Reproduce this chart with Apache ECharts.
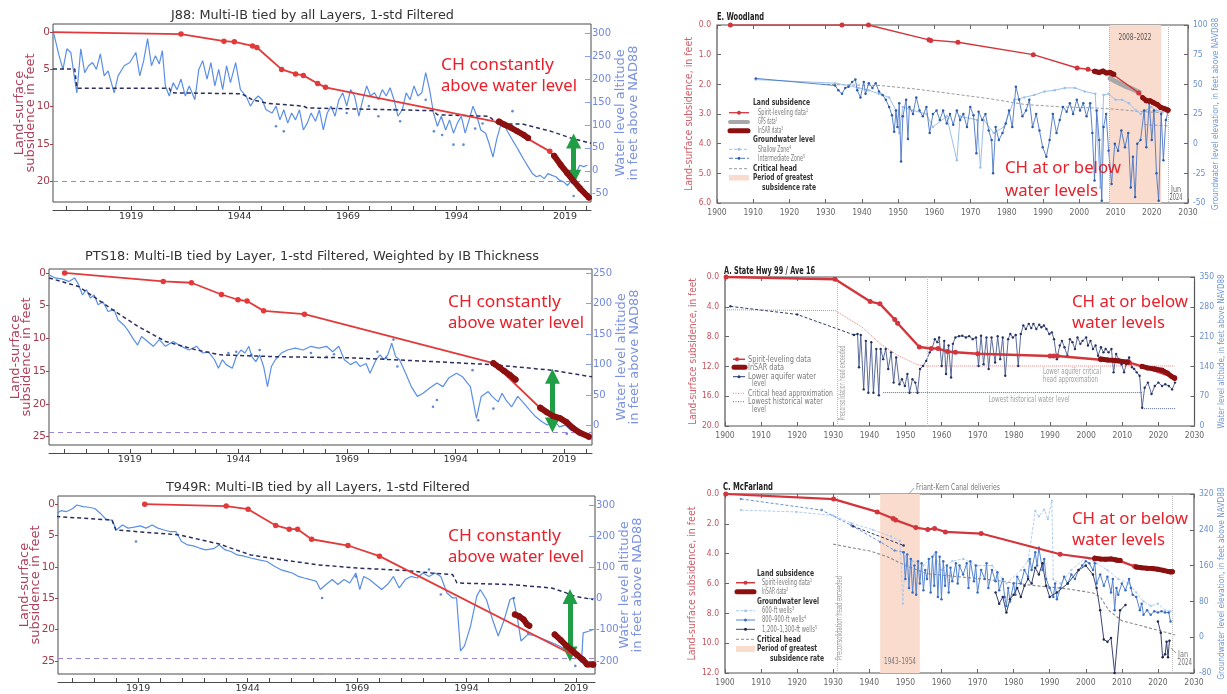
<!DOCTYPE html>
<html>
<head>
<meta charset="utf-8">
<script src="https://cdn.jsdelivr.net/npm/echarts@6.0.0/dist/echarts.min.js"></script>
<style>
html,body{margin:0;padding:0;background:#ffffff;}
#chart{width:1227px;height:694px;}
</style>
</head>
<body>
<div id="chart"></div>
<script>
// ================= TICK LABELS =================
const MPL_X_LABELS = [1919, 1944, 1969, 1994, 2019];
const MPL_X_TICKS = [1904,1909,1914,1919,1924,1929,1934,1939,1944,1949,1954,1959,1964,1969,1974,1979,1984,1989,1994,1999,2004,2009,2014,2019,2024];
const J88_LEFT_TICKS = [0,5,10,15,20];
const J88_RIGHT_TICKS = [-50,0,50,100,150,200,250,300];
const PTS_LEFT_TICKS = [0,5,10,15,20,25];
const PTS_RIGHT_TICKS = [0,50,100,150,200,250];
const T949_LEFT_TICKS = [0,5,10,15,20,25];
const T949_RIGHT_TICKS = [-200,-100,0,100,200,300];

// ================= J88 =================
const J88_SPIRIT = [[1901,0],[1930.5,0.25],[1940.4,1.2],[1942.8,1.3],[1947.0,1.85],[1948.0,2.05],[1953.7,5.0],[1956.9,5.6],[1958.7,5.8],[1962.0,6.9],[1963.8,7.4],[2003.8,12.1],[2015.5,16.0],[2024.5,22.2]];
const J88_INSAR_A = [[2003.8,12.0],[2005,12.4],[2006.5,12.8],[2008,13.3],[2009.5,13.8],[2010.5,14.2]];
const J88_INSAR_B = [[2016.5,16.6],[2018,17.8],[2019.5,18.9],[2021,20.0],[2022.5,21.0],[2024.5,22.2]];
const J88_WATER = [[1901,306],[1902.4,251],[1903.3,221],[1904.2,266],[1905.1,258],[1906,200],[1906.5,170],[1907.4,266],[1908.3,214],[1909.2,229],[1910.1,236],[1911,221],[1911.9,255],[1912.8,207],[1913.7,218],[1915.1,170],[1916,207],[1917.4,229],[1918.7,236],[1920.1,258],[1921,207],[1921.9,240],[1922.8,288],[1923.7,229],[1924.6,251],[1925.5,233],[1926.2,262],[1926.9,185],[1927.8,163],[1928.7,192],[1929.6,177],[1930.5,200],[1931.5,163],[1932.4,185],[1933.7,155],[1934.6,221],[1935.5,240],[1936.5,200],[1937.4,236],[1938.3,185],[1939.2,221],[1940.1,177],[1941,229],[1941.9,192],[1943.1,236],[1944.2,177],[1945.5,163],[1946.5,141],[1947.4,155],[1948.3,163],[1949.2,155],[1950.1,133],[1951.5,126],[1952.4,141],[1953.3,111],[1954.2,133],[1955.1,104],[1956,126],[1956.9,111],[1957.8,133],[1958.7,89],[1959.6,104],[1960.5,126],[1961.5,108],[1962.4,133],[1963.3,89],[1964.2,126],[1965.1,141],[1966,119],[1966.9,155],[1967.8,170],[1968.7,141],[1969.6,177],[1970.5,163],[1971.5,119],[1972.4,155],[1973.3,185],[1974.2,163],[1975.1,170],[1976,155],[1976.9,177],[1977.8,163],[1978.7,181],[1979.6,155],[1980.5,119],[1981.5,133],[1982.4,170],[1983.3,155],[1984.2,185],[1985.1,163],[1986,170],[1986.9,214],[1987.8,177],[1988.7,126],[1989.6,97],[1990.5,119],[1991.5,89],[1992.4,111],[1993.3,82],[1994.2,104],[1995.1,119],[1996,82],[1996.9,111],[1997.8,141],[1998.7,119],[1999.6,89],[2000.7,82],[2001.5,60],[2002.4,30],[2003.3,70],[2004.2,100],[2005.1,97],[2006,82],[2006.9,67],[2007.8,53],[2008.7,38],[2009.6,23],[2010.5,9],[2011.5,-6],[2012.4,-13],[2013.3,-10],[2014.2,-17],[2015.1,-6],[2016,-10],[2016.9,-13],[2017.8,-21],[2018.7,-24],[2019.6,-32],[2020.5,-21],[2021.5,-6],[2022.4,12],[2023.3,9],[2024.2,12]];
const J88_DOTS = [[1952.4,97],[1954.2,86],[1968.7,126],[1973.8,141],[1976,119],[1979.6,133],[1981,108],[1986.9,155],[1988.8,86],[1990.7,78],[1993.3,57],[1995.6,57],[1998.3,92],[2000,103],[2006.9,130],[2021,-55]];
const J88_CRIT = [[1901,222],[1906,222],[1906.5,180],[1927.8,180],[1928.3,170],[1944.5,168],[1946.9,155],[1950.5,147],[1958.7,141],[1959.6,137],[1979.6,133],[1988.7,131],[1989.6,122],[2001.5,119],[2003.5,102],[2009.2,102],[2015.8,86],[2020.5,71],[2025,60]];

// ================= PTS18 =================
const PTS_SPIRIT = [[1904,0],[1926.7,1.3],[1933.2,1.5],[1940.1,3.3],[1943.9,4.1],[1946,4.3],[1949.8,5.8],[1959.2,6.3],[2002.7,13.8],[2013.7,20.8],[2024.8,25.1]];
const PTS_INSAR_A = [[2002.7,13.8],[2004,14.4],[2005.2,15.0],[2006.5,15.6],[2007.8,16.3]];
const PTS_INSAR_B = [[2013.5,20.6],[2015,21.3],[2016.5,21.9],[2018,22.2],[2019.5,22.8],[2021,23.7],[2022.5,24.4],[2024.6,25.0]];
const PTS_WATER = [[1900.4,247],[1901.8,242],[1903.6,240],[1905,236],[1906.3,242],[1907.2,231],[1908.1,214],[1909,223],[1909.9,209],[1910.8,214],[1911.7,198],[1912.8,203],[1914,187],[1915.4,190],[1916.3,173],[1917.6,165],[1918.5,157],[1919.9,141],[1920.8,132],[1921.7,146],[1923.1,138],[1924.4,130],[1925.8,141],[1927.2,130],[1929,138],[1930.8,130],[1932.6,124],[1934.4,130],[1935.8,119],[1937.1,121],[1938.5,108],[1939.4,94],[1940.3,108],[1941.2,100],[1942.6,94],[1943.5,113],[1944.6,124],[1945.5,119],[1946.4,130],[1947.1,113],[1948,105],[1948.9,116],[1949.8,97],[1950.7,64],[1951.6,97],[1952.5,108],[1953.9,119],[1955.3,124],[1957.1,127],[1958.9,124],[1960.7,130],[1962.5,127],[1964.3,130],[1965.7,121],[1967.1,130],[1968.4,108],[1969.8,100],[1971.1,105],[1972,97],[1973.4,102],[1974.3,86],[1975.7,108],[1976.6,116],[1977.5,108],[1978.4,116],[1979.3,135],[1980.2,113],[1981.1,108],[1982.5,86],[1983.8,64],[1985.2,48],[1986.5,53],[1987.9,61],[1989.7,70],[1991.1,64],[1992.4,78],[1994.2,86],[1995.6,80],[1997.4,64],[1998.8,12],[1999.9,48],[2001.5,56],[2002.4,48],[2003.8,39],[2004.7,53],[2005.6,42],[2006.9,31],[2008.3,48],[2009.7,37],[2011,26],[2012.4,15],[2013.8,7],[2015.1,1],[2016.5,10],[2017.9,-2],[2019.2,1],[2020.5,-7],[2021.9,-10],[2023.2,-13],[2024.6,-15]];
const PTS_DOTS = [[1941.7,119],[1943.5,121],[1947,116],[1948.9,124],[1960.7,119],[1964.3,113],[1966,117],[1976,121],[1978,111],[1979.7,141],[1980.6,97],[1988.8,31],[1989.7,42],[1997.9,91],[1999.2,9],[2002.7,28],[2016,-2],[2019.6,-13]];
const PTS_CRIT = [[1900.4,242],[1907.2,228],[1916.3,184],[1920.8,163],[1927.2,138],[1934.4,124],[1939.9,116],[1952.5,113],[1970.7,111],[1988.8,105],[2002.4,100],[2016,91],[2025.4,80]];

// ================= T949R =================
const T949_SPIRIT = [[1920.5,0],[1939.1,0.3],[1944.1,0.8],[1950.4,3.4],[1953.5,4.0],[1955.4,4.0],[1958.6,5.6],[1966.9,6.6],[1974.1,8.3],[2022.9,25.7]];
const T949_INSAR_A = [[2005,17.6],[2006,17.9],[2007,18.4],[2007.8,19.2],[2008.3,19.4]];
const T949_INSAR_B = [[2014.1,20.8],[2015.5,21.7],[2016.8,22.6],[2018,23.3],[2019.3,24.1],[2020.5,24.8],[2021.5,25.6],[2022.9,25.6]];
const T949_WATER = [[1900.3,273],[1901.4,282],[1902.7,279],[1904.1,289],[1905,300],[1906.4,295],[1907.7,293],[1909.1,289],[1910.4,273],[1911.8,252],[1913.1,252],[1914,220],[1915.4,236],[1916.7,226],[1918.1,229],[1919.5,233],[1920.8,226],[1922.2,236],[1923.5,226],[1924.9,220],[1926.2,215],[1927.6,215],[1928.9,183],[1930.3,172],[1931.6,169],[1933,162],[1934.4,156],[1936.2,160],[1937.5,172],[1938.9,156],[1940.2,151],[1941.6,140],[1942.9,137],[1944.7,130],[1946.6,124],[1948.4,119],[1950.2,103],[1951.5,93],[1952.9,87],[1954.2,82],[1955.6,71],[1956.9,66],[1958.3,61],[1959.7,55],[1960.6,29],[1961.9,45],[1963.3,61],[1964.6,45],[1966,61],[1967.3,50],[1968.7,82],[1969.6,29],[1970.5,71],[1971.8,61],[1973.2,45],[1974.6,29],[1975.9,45],[1977.3,71],[1978.6,34],[1980,61],[1981.3,71],[1982.7,66],[1984,82],[1985.4,71],[1986.8,82],[1988.1,71],[1989.5,18],[1990.8,2],[1991.7,2],[1992.6,-168],[1993.5,-152],[1994.9,-88],[1996.3,7],[1997.1,29],[1998.5,-3],[1999.9,-67],[2001.2,-120],[2002.6,-67],[2003.9,-3],[2004.6,2],[2005.5,-56],[2006.4,-136],[2008,-115],[2009.8,-120],[2011.6,-131],[2013.4,-141],[2015.2,-152],[2017,-168],[2018.8,-184],[2020.2,-205],[2020.6,-110],[2022,-104],[2022.9,-99]];
const T949_DOTS = [[1918.5,183],[1961,2],[1968.7,71],[1985.4,93],[1988.1,13],[2004.8,2],[2008,-110],[2018.8,-216]];
const T949_CRIT = [[1900.3,263],[1913,252],[1913.9,220],[1928.5,204],[1937.5,175],[1944.7,140],[1950,128],[1960,108],[1969,98],[1980,90],[1986,82],[1990.8,77],[1991.8,50],[2004,45],[2013.4,34],[2016,22],[2018.8,7],[2022.9,-3]];

// ================= E. WOODLAND =================
const WOOD_SPIRIT = [[1903.7,0],[1934.5,0],[1941.8,0],[1958.5,0.5],[1959,0.52],[1966.5,0.58],[1987.3,1.0],[1999.4,1.45],[2002.4,1.49],[2004.5,1.58],[2006.5,1.58],[2008.5,1.62],[2009.2,1.66],[2016.4,2.29],[2018.5,2.55],[2020.5,2.62],[2022.5,2.78],[2024.2,2.85]];
const WOOD_INSAR_A = [[2004.2,1.56],[2005.5,1.6],[2006.5,1.55],[2007.5,1.62],[2008.5,1.6],[2009.5,1.66]];
const WOOD_INSAR_B = [[2017.5,2.45],[2018.5,2.55],[2019.5,2.55],[2020.5,2.62],[2021.5,2.68],[2022.5,2.78],[2023.5,2.82],[2024.5,2.87]];
const WOOD_GPS = [[2008.5,1.8],[2010.5,1.93],[2012.5,2.05],[2014.5,2.15],[2016.5,2.27]];
const WOOD_INTER = [[1910.7,55],[1932.6,49],[1933.5,45],[1934.5,42],[1935.4,47],[1936.3,48],[1937.3,52],[1938.2,54],[1938.7,45],[1939.6,39],[1940.5,52],[1941,42],[1941.9,51],[1942.9,47],[1943.8,51],[1944.7,44],[1945.7,41],[1946.6,37],[1947.5,31],[1948.3,24],[1948.9,10],[1949.4,28],[1949.8,14],[1950.3,34],[1950.8,-15],[1951.3,23],[1952.2,37],[1952.7,4],[1953.1,31],[1954.1,25],[1955,39],[1955.9,28],[1956.8,23],[1957.8,31],[1958.7,9],[1959.6,25],[1960.6,28],[1961.5,20],[1962.4,28],[1963.4,17],[1964.3,25],[1965.2,16],[1966.2,28],[1967.1,20],[1968,25],[1969,14],[1969.9,31],[1970.8,24],[1971.6,-8],[1972.2,27],[1973.2,20],[1974.1,25],[1975,11],[1975.8,3],[1976.2,-25],[1976.9,14],[1977.8,3],[1978.8,9],[1979.7,17],[1980.6,28],[1981.5,14],[1982.5,48],[1983.4,37],[1984.3,23],[1985.3,28],[1986.2,37],[1987.1,14],[1988.1,25],[1989,11],[1989.9,-3],[1990.9,-11],[1991.8,3],[1992.7,25],[1993.7,9],[1994.6,20],[1995.5,31],[1996.5,27],[1997.4,34],[1998.3,25],[1999.3,37],[2000.2,28],[2001.1,34],[2002,23],[2003,34],[2003.6,9],[2004.2,-31],[2004.8,28],[2005.5,3],[2006.2,-48],[2006.7,14],[2007.4,25],[2008.1,-6],[2008.9,-34],[2009.8,0],[2010.7,-6],[2011.6,11],[2012.6,-3],[2013.5,9],[2014.2,-37],[2014.8,-11],[2015.4,-45],[2016,0],[2016.9,3],[2017.9,28],[2018.5,-3],[2019.3,34],[2020,3],[2020.6,28],[2021.3,-25],[2021.9,-48],[2022.6,25],[2023.2,-14],[2023.9,20],[2024.6,28]];
const WOOD_SHALLOW = [[1910.7,54],[1932.6,51],[1936.3,49],[1939.1,47],[1941.9,45],[1944.7,42],[1947.5,39],[1949.4,28],[1950.3,9],[1951.3,31],[1954.1,28],[1957.8,25],[1959.6,14],[1963.4,23],[1966.2,-14],[1967.1,23],[1971.8,20],[1972.7,-20],[1973.6,20],[1976.4,9],[1979.2,14],[1982,37],[1984.8,39],[1987.6,41],[1990.4,44],[1993.2,45],[1996,47],[1998.8,47],[2001.5,44],[2004.4,42],[2005.8,-37],[2006.7,41],[2008.1,42],[2010,37],[2011.8,37],[2013.7,34],[2015.6,28],[2017,25],[2018.4,28],[2019.8,31],[2021.2,28],[2023,27],[2024.7,28]];
const WOOD_CRIT = [[1929,50],[1945,49],[1955,46],[1965,42],[1975,38],[1985,33],[1995,31],[2005,30],[2010,29],[2017,27],[2024.5,26]];
const WOOD_CRIT_LOW = [[2018,16],[2024.5,15]];

// ================= A. STATE HWY 99 / AVE 16 =================
const HWY_SPIRIT = [[1900.3,0],[1930.5,0.3],[1940.2,3.3],[1942.9,3.6],[1947,5.7],[1947.8,6.2],[1953.8,9.4],[1957.1,9.6],[1959,9.6],[1961.6,10.0],[1963.8,10.1],[1970,10.3],[1990,10.6],[1991,10.6],[1992,10.6],[2004,11.1],[2012,11.5],[2015.5,12.0],[2024.5,13.5]];
const HWY_INSAR_A = [[2004,11.0],[2006,11.15],[2008,11.2],[2010,11.35],[2011.5,11.4]];
const HWY_INSAR_B = [[2015.5,12.0],[2017,12.2],[2019,12.35],[2021,12.5],[2022.5,12.9],[2023.5,13.3],[2024.5,13.6]];
const HWY_CRIT = [[1900,273],[1930.5,271],[1938,232],[1943,193],[1948,165],[1953,145],[1955,141],[2024.5,141]];
const HWY_LOWEST_A = [[1943.8,78.5],[2015.5,78.5]];
const HWY_LOWEST_B = [[2015.5,40.8],[2024.8,40.8]];
const HWY_WATER_EARLY = [[1901.5,281],[1920,262],[1935.7,214]];
const HWY_WATER = [[1935.7,214],[1936.7,216],[1937.1,138],[1937.6,214],[1938.4,86],[1939,200],[1939.7,78],[1940.5,197],[1941.1,78],[1941.9,181],[1942.6,72],[1943.1,181],[1943.8,157],[1944.5,181],[1945.2,134],[1946,173],[1946.7,102],[1947.4,161],[1948.3,98],[1949,110],[1949.8,94],[1950.5,122],[1951.1,78],[1951.9,110],[1952.7,102],[1953.3,78],[1954,134],[1954.8,141],[1955.7,153],[1956.7,173],[1957.3,181],[1958.1,204],[1958.8,197],[1959.3,208],[1960,141],[1960.7,200],[1961.2,122],[1961.9,189],[1962.6,114],[1963.1,193],[1963.8,208],[1964.8,211],[1965.7,212],[1966.7,208],[1967.6,211],[1968.6,204],[1969.5,208],[1970.2,141],[1970.9,212],[1971.6,145],[1972.4,208],[1973,134],[1973.8,208],[1974.8,149],[1975.5,211],[1976.2,157],[1976.9,208],[1977.6,118],[1978.4,204],[1979,216],[1979.7,208],[1980.5,214],[1981.2,141],[1981.9,216],[1982.6,236],[1983.3,228],[1984.1,240],[1984.8,230],[1985.4,240],[1986.2,228],[1987,238],[1987.6,232],[1988.3,236],[1989,228],[1989.8,216],[1990.5,220],[1991.1,204],[1991.9,157],[1992.7,189],[1993.3,200],[1994,185],[1994.8,165],[1995.5,204],[1996.2,197],[1996.9,181],[1997.6,208],[1998.4,193],[1999,200],[2000,208],[2000.5,189],[2001.2,200],[2001.9,181],[2002.6,189],[2003.3,165],[2004.1,185],[2004.8,173],[2005.4,181],[2006.2,173],[2007,181],[2007.6,126],[2008.3,169],[2009,157],[2009.8,145],[2010.5,126],[2011.1,145],[2011.9,161],[2012.7,138],[2013.3,134],[2014,126],[2014.8,118],[2015.5,43],[2016.2,90],[2017.1,102],[2018.1,75],[2019,94],[2020,102],[2021,94],[2021.9,98],[2022.9,94],[2023.8,86],[2024.6,102]];

// ================= C. MCFARLAND =================
const MCF_SPIRIT = [[1900.2,0],[1930.1,0.34],[1942.2,1.2],[1946.6,1.64],[1947.3,1.75],[1952.9,2.25],[1956.2,2.38],[1958.1,2.31],[1961.1,2.54],[1971,2.65],[1992.9,4.04],[2002.5,4.35],[2009,4.45],[2013.5,4.85],[2023.5,5.25]];
const MCF_INSAR_A = [[2002.5,4.3],[2004,4.35],[2005.5,4.38],[2007,4.35],[2008.5,4.42],[2009.5,4.45]];
const MCF_INSAR_B = [[2014,4.9],[2015.5,4.95],[2017,4.98],[2018.5,5.0],[2020,5.05],[2021.5,5.12],[2023,5.2],[2024,5.22]];
const MCF_600 = [[1904.4,284],[1919.8,280],[1930,272],[1935,255],[1941,240],[1946,225],[1948.5,215],[1949.3,75],[1950,180],[1952,170],[1955,160],[1958,185],[1960,150],[1963,170],[1966,175],[1970,160],[1974,160],[1978,120],[1982,150],[1984,170],[1986,282],[1987,270],[1988.5,285],[1989.5,264],[1990.6,305],[1991,129],[1993,120],[1996,150],[2000,178],[2003,165],[2006,150],[2009,130],[2012,120],[2014,100],[2016,80],[2018,70],[2020,75],[2022,60],[2023.5,58]];
const MCF_800_EARLY = [[1904.4,309],[1926.8,284],[1935,250],[1943,213],[1947,194],[1949.5,190]];
const MCF_800 = [[1949.5,190],[1950,130],[1950.5,185],[1951,110],[1951.5,175],[1952,100],[1952.5,160],[1953,95],[1953.5,170],[1954,120],[1954.5,165],[1955,105],[1955.5,150],[1956,130],[1956.5,175],[1957,100],[1957.5,180],[1958,115],[1958.5,190],[1959,90],[1959.5,180],[1960,85],[1960.5,170],[1961,115],[1961.5,160],[1962,100],[1962.5,155],[1963,125],[1964,165],[1964.5,120],[1965,160],[1966,140],[1967,165],[1967.5,110],[1968,170],[1969,125],[1969.5,160],[1970,100],[1971,150],[1972,130],[1972.5,165],[1973,110],[1974,150],[1975,125],[1975.5,145],[1976,105],[1977,130],[1977.5,90],[1978,70],[1978.5,110],[1979,80],[1980,120],[1980.5,95],[1981,135],[1982,120],[1983,150],[1984,135],[1984.5,175],[1985,150],[1986,190],[1986.5,160],[1987,200],[1988,150],[1988.5,175],[1989,130],[1990,110],[1991,90],[1991.5,120],[1992,85],[1993,110],[1994,135],[1995,120],[1996,140],[1997,130],[1998,150],[1999,160],[2000,170],[2001,165],[2002,150],[2002.5,165],[2003,120],[2004,140],[2005,115],[2006,135],[2007,100],[2007.5,130],[2008,60],[2008.5,110],[2009,95],[2010,120],[2011,105],[2012,130],[2012.5,110],[2013,95],[2014,90],[2015,60],[2015.5,75],[2016,50],[2017,60],[2018,50],[2019,58],[2020,55],[2021,58],[2022,55],[2023,55],[2023.5,35]];
const MCF_1200_EARLY = [[1935.5,248],[1949.5,205]];
const MCF_1200_A = [[1975,100],[1976,75],[1977,90],[1978,55],[1979,85],[1980,95],[1981,110],[1982,90],[1983,115],[1984,130],[1985,120],[1986,155],[1987,140],[1988,165],[1989,115],[1990,90],[1992,100],[1995,120],[1998,150],[2000,160],[2002,140],[2003,110],[2004,60],[2005,-5],[2006,-10],[2007,-2],[2008,-80],[2009.5,60],[2011,72]];
const MCF_1200_B = [[2020,35],[2020.8,10],[2021.3,-45],[2022,-38],[2022.4,-10],[2022.8,-45],[2023.2,-8]];
const MCF_CRIT = [[1930,208],[1935,200],[1940,193],[1945,180],[1950,160],[1956,142],[1965,135],[1975,127],[1985,116],[1995,108],[2002,99],[2004,90],[2006.5,59],[2010,37],[2017,22],[2024.8,5]];

// ================= STYLE CONSTANTS =================
const F_MPL = "'DejaVu Sans', sans-serif";
const F_NAR = "'Liberation Sans Narrow','DejaVu Sans Condensed','Arial Narrow','Roboto Condensed','Liberation Sans',sans-serif";
const F_ANN = "'Noto Sans','Open Sans',sans-serif";
const RED = '#e23a3a', DARKRED = '#8c1010', MBLUE = '#5b8fe6', NAVY = '#2b2e5e', GREEN = '#1f9e45', ANN_RED = '#e8202a';
const U_RED = '#d2363c', U_LBL_RED = '#c8505a', U_LBL_BLUE = '#6a90cc', PINK = '#f9dccd';

const option = {animation:false, backgroundColor:'#ffffff', grid:[], xAxis:[], yAxis:[], series:[], graphic:[]};

const _mctx = document.createElement('canvas').getContext('2d');
function measure(text, size, family, weight) {
  _mctx.font = (weight || 'normal') + ' ' + size + 'px ' + family;
  return _mctx.measureText(text).width;
}
// text helper; o.w = wanted width in px (horizontal squeeze/stretch of the glyphs)
function txt(x, y, text, o) {
  o = o || {};
  const size = o.size || 10, fam = o.font || F_NAR, wt = o.weight || 'normal';
  let sx = 1;
  if (o.w) sx = o.w / measure(text, size, fam, wt);
  option.graphic.push({type:'text', x:x, y:y, z:100, silent:true, rotation:o.rot||0, scaleX:sx, scaleY:1,
    style:{text:text, fill:o.color||'#333', fontSize:size, fontFamily:fam, fontWeight:wt,
      align:o.align||'left', verticalAlign:'middle', textAlign:o.align||'left', textVerticalAlign:'middle'}});
}
function gline(x1,y1,x2,y2,color,w,dash,cap) {
  option.graphic.push({type:'line', z:100, silent:true, shape:{x1:x1,y1:y1,x2:x2,y2:y2},
    style:{stroke:color, lineWidth:w, lineDash:dash||null, lineCap:cap||'butt'}});
}
function gdot(cx,cy,r,color) {
  option.graphic.push({type:'circle', z:101, silent:true, shape:{cx:cx,cy:cy,r:r}, style:{fill:color}});
}
function grect(x,y,w,h,color) {
  option.graphic.push({type:'rect', z:100, silent:true, shape:{x:x,y:y,width:w,height:h}, style:{fill:color}});
}
function lineS(xi, yi, data, color, width, o) {
  o = o || {};
  const s = {type:'line', xAxisIndex:xi, yAxisIndex:yi, data:data, silent:true, z:o.z||3,
    showSymbol:!!o.sym, symbol:o.sym ? 'circle':'none', symbolSize:o.sym||0,
    lineStyle:{color:color, width:width, type:o.dash||'solid', cap:o.cap||'butt'},
    itemStyle:{color:o.symColor||color}};
  option.series.push(s);
  return s;
}

// ================= MATPLOTLIB-STYLE PANELS (left column) =================
function mplPanel(P) {
  const gi = option.grid.length;
  option.grid.push({left:P.box[0], top:P.box[1], width:P.box[2], height:P.box[3], show:true, borderColor:'#4a4a4a', borderWidth:1, backgroundColor:'transparent'});
  const xi = option.xAxis.length;
  option.xAxis.push({type:'value', gridIndex:gi, min:P.x[0], max:P.x[1], position:'bottom', offset:8,
    axisLine:{show:true, onZero:false, lineStyle:{color:'#4a4a4a', width:1}},
    axisTick:{show:true, inside:true, length:4, customValues:MPL_X_TICKS, lineStyle:{color:'#4a4a4a'}},
    axisLabel:{show:true, customValues:MPL_X_LABELS, color:'#333', fontSize:9.5, fontFamily:F_MPL, margin:2, formatter:function(v){return String(v);}},
    splitLine:{show:false}});
  const yl = option.yAxis.length;
  option.yAxis.push({type:'value', gridIndex:gi, position:'left', inverse:true, min:P.yl[0], max:P.yl[1],
    axisLine:{show:false}, axisTick:{show:true, length:3, customValues:P.ylTicks, lineStyle:{color:'#a04050'}},
    axisLabel:{customValues:P.ylTicks, color:'#a33a4a', fontSize:10.5, fontFamily:F_MPL, margin:3},
    splitLine:{show:false},
    name:'Land-surface\nsubsidence in feet', nameLocation:'middle', nameRotate:90, nameGap:17, nameMoveOverlap:false,
    nameTextStyle:{color:'#b0405a', fontSize:13, fontFamily:F_MPL, lineHeight:11}});
  const yr = option.yAxis.length;
  option.yAxis.push({type:'value', gridIndex:gi, position:'right', min:P.yr[0], max:P.yr[1],
    axisLine:{show:false}, axisTick:{show:true, inside:true, length:6, customValues:P.yrTicks, lineStyle:{color:'#8aa0e6'}},
    axisLabel:{customValues:P.yrTicks, color:'#7188dc', fontSize:10, fontFamily:F_MPL, margin:1},
    splitLine:{show:false},
    name:'Water level altitude\nin feet above NAD88', nameLocation:'middle', nameRotate:90, nameGap:23, nameMoveOverlap:false,
    nameTextStyle:{color:'#7b92e0', fontSize:13, fontFamily:F_MPL, lineHeight:13}});
  const ref = lineS(xi, yl, [], '#9a86d8', 1, {z:1});
  ref.markLine = {silent:true, symbol:['none','none'], label:{show:false}, lineStyle:{color:'#9a86d8', type:[5,4], width:1.2}, data:[{yAxis:P.purple}]};
  lineS(xi, yr, P.water, MBLUE, 1.2, {z:2});
  option.series.push({type:'scatter', xAxisIndex:xi, yAxisIndex:yr, data:P.dots, symbolSize:2.6, silent:true, itemStyle:{color:'#3a6ec2'}, z:3});
  lineS(xi, yr, P.crit, NAVY, 1.5, {dash:[4,3], z:4});
  const sp = P.spirit.map(function(d,i){ return (i===0 && P.noFirstDot) ? {value:d, symbolSize:0} : d; });
  lineS(xi, yl, sp, RED, 1.8, {sym:5.5, z:5});
  P.insar.forEach(function(seg){ lineS(xi, yl, seg, DARKRED, 6, {sym:6, cap:'round', z:6}); });
  const ar = lineS(xi, yr, [], GREEN, 1, {z:10});
  ar.markLine = {silent:true, symbol:['triangle','triangle'], symbolSize:15, label:{show:false},
    lineStyle:{color:GREEN, width:5, type:'solid'}, itemStyle:{color:GREEN},
    data:[[{coord:[P.arrow[0], P.arrow[1]]},{coord:[P.arrow[0], P.arrow[2]]}]]};
  txt(P.title[1], P.title[2], P.title[0], {font:F_MPL, size:12.5, color:'#333', align:'center', w:P.title[3]});
  txt(P.ann[0], P.ann[1], 'CH constantly', {font:F_ANN, size:17, color:ANN_RED, w:113});
  txt(P.ann[0], P.ann[2], 'above water level', {font:F_ANN, size:17, color:ANN_RED, w:136});
}

mplPanel({box:[53,24,538,178], x:[1901,2025], yl:[-1.1,22.8], yr:[-68,320], ylTicks:J88_LEFT_TICKS, yrTicks:J88_RIGHT_TICKS,
  water:J88_WATER, dots:J88_DOTS, crit:J88_CRIT, spirit:J88_SPIRIT, insar:[J88_INSAR_A, J88_INSAR_B], noFirstDot:true,
  purple:20, arrow:[2021,65,-14], title:['J88: Multi-IB tied by all Layers, 1-std Filtered',312.5,16,283], ann:[441,65,86]});
mplPanel({box:[49,269,543,176], x:[1900.4,2025.4], yl:[-0.6,26.3], yr:[-31.6,256.6], ylTicks:PTS_LEFT_TICKS, yrTicks:PTS_RIGHT_TICKS,
  water:PTS_WATER, dots:PTS_DOTS, crit:PTS_CRIT, spirit:PTS_SPIRIT, insar:[PTS_INSAR_A, PTS_INSAR_B], noFirstDot:false,
  purple:24.4, arrow:[2016.3,81,1], title:['PTS18: Multi-IB tied by Layer, 1-std Filtered, Weighted by IB Thickness',312,257,454], ann:[448,302,323]});
mplPanel({box:[58,496,537,179], x:[1900.7,2023.3], yl:[-1.3,27.1], yr:[-242,329], ylTicks:T949_LEFT_TICKS, yrTicks:T949_RIGHT_TICKS,
  water:T949_WATER, dots:T949_DOTS, crit:T949_CRIT, spirit:T949_SPIRIT, insar:[T949_INSAR_A, T949_INSAR_B], noFirstDot:false,
  purple:24.6, arrow:[2017.6,7,-178], title:['T949R: Multi-IB tied by all Layers, 1-std Filtered',318,488,304], ann:[448,536,557]});

// ================= USGS-STYLE PANELS (right column) =================
function usgsAxes(U) {
  const gi = option.grid.length;
  option.grid.push({left:U.box[0], top:U.box[1], width:U.box[2], height:U.box[3], show:true, borderColor:'#555', borderWidth:1.2, backgroundColor:'transparent'});
  const xi = option.xAxis.length;
  option.xAxis.push({type:'value', gridIndex:gi, min:1900, max:2030, interval:10, position:'bottom',
    axisLine:{show:false, onZero:false}, axisTick:{show:true, inside:true, length:4, lineStyle:{color:'#666'}},
    axisLabel:{color:'#666', fontSize:8.5, fontFamily:F_NAR, margin:5, formatter:function(v){return String(v);}}, splitLine:{show:false}});
  option.xAxis.push({type:'value', gridIndex:gi, min:1900, max:2030, interval:10, position:'top',
    axisLine:{show:false, onZero:false}, axisTick:{show:true, inside:true, length:4, lineStyle:{color:'#666'}},
    axisLabel:{show:false}, splitLine:{show:false}});
  const yl = option.yAxis.length;
  option.yAxis.push({type:'value', gridIndex:gi, position:'left', inverse:true, min:U.yl[0], max:U.yl[1], interval:U.yl[2],
    axisLine:{show:false}, axisTick:{show:true, inside:true, length:4, lineStyle:{color:'#666'}},
    axisLabel:{color:U_LBL_RED, fontSize:8.5, fontFamily:F_NAR, margin:6, formatter:function(v){return v.toFixed(1);}},
    splitLine:{show:false},
    name:'Land-surface subsidence, in feet', nameLocation:'middle', nameRotate:90, nameGap:20,
    nameTextStyle:{color:'#d0606a', fontSize:U.lNameSize, fontFamily:F_NAR}});
  const yr = option.yAxis.length;
  option.yAxis.push({type:'value', gridIndex:gi, position:'right', min:U.yr[0], max:U.yr[1], interval:U.yr[2],
    axisLine:{show:false}, axisTick:{show:true, inside:true, length:4, lineStyle:{color:'#666'}},
    axisLabel:{color:U_LBL_BLUE, fontSize:8.5, fontFamily:F_NAR, margin:5},
    splitLine:{show:false},
    name:U.rName, nameLocation:'middle', nameRotate:90, nameGap:22,
    nameTextStyle:{color:'#6f95d2', fontSize:U.rNameSize, fontFamily:F_NAR}});
  txt(U.title[1], U.title[2], U.title[0], {size:10.5, weight:'bold', color:'#222', w:U.title[3]});
  txt(U.ann[0], U.ann[1], 'CH at or below', {font:F_ANN, size:17, color:ANN_RED, w:116});
  txt(U.ann[0], U.ann[2], 'water levels', {font:F_ANN, size:17, color:ANN_RED, w:93});
  return {xi:xi, yl:yl, yr:yr};
}
function head(x, y, t, w) { txt(x, y, t, {size:9.5, weight:'bold', color:'#333', w:w}); }
function item(x, y, t, w, size) { txt(x, y, t, {size:size||8.5, color:'#7a7a7a', w:w}); }

// ---------- E. Woodland ----------
(function(){
  const A = usgsAxes({box:[717,25,471,178], yl:[0,6,1], yr:[-50,100,25], lNameSize:10.5, rNameSize:8.3,
    rName:'Groundwater level elevation, in feet above NAVD88', title:['E. Woodland',717,17,47], ann:[1005,168,191]});
  const bg = lineS(A.xi, A.yl, [], '#fff', 1, {z:1});
  bg.markArea = {silent:true, itemStyle:{color:PINK}, data:[[{xAxis:2008.3},{xAxis:2022.6}]]};
  bg.markLine = {silent:true, symbol:['none','none'], label:{show:false}, lineStyle:{color:'#9fb6dc', type:'dotted', width:1}, data:[{xAxis:2008.3},{xAxis:2024.5}]};
  lineS(A.xi, A.yr, WOOD_CRIT, '#9a9a9a', 1, {dash:[3,2], z:2});
  lineS(A.xi, A.yr, WOOD_CRIT_LOW, '#9a9a9a', 1, {dash:[3,2], z:2});
  lineS(A.xi, A.yr, WOOD_SHALLOW, '#9cc0ea', 1, {sym:2.5, z:3});
  lineS(A.xi, A.yr, WOOD_INTER, '#4a76c4', 0.9, {sym:2.5, symColor:'#2f5aa8', z:4});
  lineS(A.xi, A.yl, WOOD_GPS, '#a8a8a8', 5, {cap:'round', z:5});
  lineS(A.xi, A.yl, WOOD_SPIRIT, U_RED, 1.4, {sym:5, z:6});
  lineS(A.xi, A.yl, WOOD_INSAR_A, DARKRED, 5, {sym:5, cap:'round', z:7});
  lineS(A.xi, A.yl, WOOD_INSAR_B, DARKRED, 5, {sym:5, cap:'round', z:7});
  txt(1135, 38, '2008–2022', {size:9, color:'#555', align:'center', w:33});
  txt(1176, 190, 'Jun', {size:8.5, color:'#666', align:'center', w:10});
  txt(1176, 197.5, '2024', {size:8.5, color:'#666', align:'center', w:13});
  // legend
  head(753, 102.7, 'Land subsidence', 57);
  gline(729,112.7,749,112.7,U_RED,1.3); gdot(739,112.7,2,U_RED); item(758, 112.7, 'Spirit-leveling data¹', 50);
  gline(730,122,748,122,'#a8a8a8',4,null,'round'); item(758, 122, 'GPS data²', 19);
  gline(730,130.7,748,130.7,DARKRED,5,null,'round'); item(758, 130.7, 'InSAR data³', 25);
  head(753, 140, 'Groundwater level', 62);
  gline(729,149.3,749,149.3,'#9cc0ea',1,[3,2]); gdot(739,149.3,1.5,'#9cc0ea'); item(758, 149.3, 'Shallow Zone⁴', 33);
  gline(729,158.3,749,158.3,'#4a76c4',1,[4,2]); gdot(739,158.3,1.5,'#2f5aa8'); item(758, 158.3, 'Intermediate Zone⁵', 47);
  gline(729,168.7,749,168.7,'#999',1,[3,2]); head(753, 168.7, 'Critical head', 44);
  grect(729,175,20,5.5,PINK); head(753, 177.7, 'Period of greatest', 60);
  head(762, 187.3, 'subsidence rate', 54);
})();

// ---------- A. State Hwy 99 / Ave 16 ----------
(function(){
  const A = usgsAxes({box:[725,277,471,149], yl:[0,20,4], yr:[0,350,70], lNameSize:10, rNameSize:8,
    rName:'Water level altitude, in feet above NAVD88', title:['A. State Hwy 99 / Ave 16',724,271,91], ann:[1072,302,323]});
  const bg = lineS(A.xi, A.yl, [], '#fff', 1, {z:1});
  bg.markLine = {silent:true, symbol:['none','none'], label:{show:false}, lineStyle:{color:'#bbb', type:'dotted', width:1}, data:[{xAxis:1931},{xAxis:1956}]};
  lineS(A.xi, A.yr, HWY_CRIT, '#e58080', 1, {dash:'dotted', z:2});
  lineS(A.xi, A.yr, HWY_LOWEST_A, '#5a6690', 1, {dash:'dotted', z:2});
  lineS(A.xi, A.yr, HWY_LOWEST_B, '#5a6690', 1, {dash:'dotted', z:2});
  lineS(A.xi, A.yr, HWY_WATER_EARLY, '#2d3b6e', 1, {dash:[3,2], sym:2.5, z:3});
  lineS(A.xi, A.yr, HWY_WATER, '#4a5a8e', 0.9, {sym:2.4, symColor:'#26335f', z:3});
  lineS(A.xi, A.yl, HWY_SPIRIT, U_RED, 2.4, {sym:5, z:5});
  lineS(A.xi, A.yl, HWY_INSAR_A, DARKRED, 5, {sym:5, cap:'round', z:6});
  lineS(A.xi, A.yl, HWY_INSAR_B, DARKRED, 5, {sym:5, cap:'round', z:6});
  txt(843, 383, 'Preconsolidation head exceeded', {size:8.5, color:'#a0a0a0', align:'center', rot:Math.PI/2, w:75});
  txt(1043, 371.7, 'Lower aquifer critical', {size:8.5, color:'#a0a0a0', w:58});
  txt(1043, 380, 'head approximation', {size:8.5, color:'#a0a0a0', w:55});
  txt(1029, 400, 'Lowest historical water level', {size:8.5, color:'#a0a0a0', align:'center', w:81});
  // legend
  gline(733,359.3,745,359.3,U_RED,1.5); gdot(737,359.3,2,U_RED); item(748, 359.3, 'Spirit-leveling data', 63, 9.5);
  gline(734,367.3,745,367.3,DARKRED,5,null,'round'); item(748, 367.3, 'InSAR data', 36, 9.5);
  gline(733,376.7,745,376.7,'#2d3b6e',1); gdot(739,376.7,1.5,'#2d3b6e'); item(748, 376.7, 'Lower aquifer water', 68, 9.5);
  item(752, 383.5, 'level', 14, 9.5);
  gline(733,393.3,745,393.3,'#e58080',1,[1,1.5]); item(748, 393.3, 'Critical head approximation', 85, 9.5);
  gline(733,401.7,745,401.7,'#5a6690',1,[1,1.5]); item(748, 401.7, 'Lowest historical water', 75, 9.5);
  item(752, 409.5, 'level', 14, 9.5);
})();

// ---------- C. McFarland ----------
(function(){
  const A = usgsAxes({box:[725,494,469,179], yl:[0,12,2], yr:[-80,320,80], lNameSize:10.5, rNameSize:8.3,
    rName:'Groundwater level elevation, in feet above NAVD88', title:['C. McFarland',723,487,50], ann:[1072,519,540]});
  const bg = lineS(A.xi, A.yl, [], '#fff', 1, {z:1});
  bg.markArea = {silent:true, itemStyle:{color:PINK}, data:[[{xAxis:1943},{xAxis:1954}]]};
  bg.markLine = {silent:true, symbol:['none','none'], label:{show:false}, lineStyle:{color:'#bbb', type:'dotted', width:1}, data:[{xAxis:1931},{xAxis:2024}]};
  lineS(A.xi, A.yr, MCF_CRIT, '#8a8a8a', 1.1, {dash:[3,2], z:2});
  lineS(A.xi, A.yr, MCF_600, '#a9c8ee', 0.9, {dash:[3,1.5], sym:2.3, z:3});
  lineS(A.xi, A.yr, MCF_800_EARLY, '#6a93d6', 1, {dash:[3,2], sym:2.5, z:3});
  lineS(A.xi, A.yr, MCF_800, '#5485d2', 1, {sym:2.5, symColor:'#3a6cc0', z:4});
  lineS(A.xi, A.yr, MCF_1200_EARLY, '#2a3566', 1, {dash:[3,2], sym:2.5, z:4});
  lineS(A.xi, A.yr, MCF_1200_A, '#3a4570', 1, {sym:2.5, symColor:'#1e2850', z:4});
  lineS(A.xi, A.yr, MCF_1200_B, '#3a4570', 1, {sym:2.5, symColor:'#1e2850', z:4});
  lineS(A.xi, A.yl, MCF_SPIRIT, U_RED, 2.2, {sym:5, z:5});
  lineS(A.xi, A.yl, MCF_INSAR_A, DARKRED, 5, {sym:5, cap:'round', z:6});
  lineS(A.xi, A.yl, MCF_INSAR_B, DARKRED, 5, {sym:5, cap:'round', z:6});
  txt(916, 487.5, 'Friant-Kern Canal deliveries', {size:8.5, color:'#777', w:84});
  gline(909,494,914,488,'#888',0.8);
  txt(900, 662, '1943–1954', {size:8.5, color:'#777', align:'center', w:32});
  txt(840, 618, 'Preconsolidation head exceeded', {size:8.5, color:'#a0a0a0', align:'center', rot:Math.PI/2, w:84});
  txt(1178, 655, 'Jan', {size:8.5, color:'#777', w:10});
  txt(1178, 662.5, '2024', {size:8.5, color:'#777', w:14});
  gline(1171,648,1176,653,'#888',0.8);
  // legend
  head(757, 573.3, 'Land subsidence', 57);
  gline(736,582.7,755,582.7,U_RED,1.5); gdot(745.5,582.7,2,U_RED); item(762, 582.7, 'Spirit-leveling data¹', 50);
  gline(737,591.7,754,591.7,DARKRED,5,null,'round'); item(762, 591.7, 'InSAR data²', 26);
  head(757, 601.7, 'Groundwater level', 62);
  gline(736,610.7,755,610.7,'#a9c8ee',1,[3,1.5]); gdot(745.5,610.7,1.5,'#a9c8ee'); item(762, 610.7, '600-ft wells³', 32);
  gline(736,620,755,620,'#5485d2',1); gdot(745.5,620,1.5,'#3a6cc0'); item(762, 620, '800–900-ft wells⁴', 44);
  gline(736,629.3,755,629.3,'#3a4570',1); gdot(745.5,629.3,1.5,'#1e2850'); item(762, 629.3, '1,200–1,300-ft wells⁵', 55);
  gline(736,639.3,755,639.3,'#8a8a8a',1,[3,2]); head(757, 639.3, 'Critical head', 44);
  grect(736,646,19,6,PINK); head(757, 649, 'Period of greatest', 60);
  head(770, 658.3, 'subsidence rate', 54);
})();

const chart = echarts.init(document.getElementById('chart'), null, {renderer:'canvas'});
chart.setOption(option);
</script>
</body>
</html>
